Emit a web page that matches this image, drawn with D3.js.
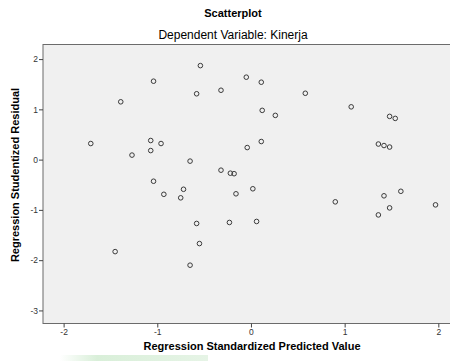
<!DOCTYPE html>
<html>
<head>
<meta charset="utf-8">
<script src="https://cdn.jsdelivr.net/npm/d3@7"></script>
<style>
  body { margin: 0; background: #fff; }
  svg { display: block; font-family: "Liberation Sans", Arial, sans-serif; }
</style>
</head>
<body>
<div id="container"></div>
<script>
/* CONSTANTS AND GLOBALS */
const width = 450,
  height = 361,
  margin = { top: 44.5, bottom: 37.5, left: 43, right: -8 };

/* DATA */
const predicted = [
  -1.04, -1.39, -1.71, -1.07, -0.96, -1.27, -1.07, -1.04, -0.54, -0.05,
  0.11, -0.58, -0.32, 0.58, 0.12, 0.26, -0.04, 0.11, -0.65, -0.32,
  -0.22, -0.18, -0.93, -0.72, -0.75, -0.16, 0.02, 1.07, 1.48, 1.54,
  1.36, 1.42, 1.48, 1.60, 1.42, 0.90, -1.45, -0.58, -0.23, 0.06,
  -0.55, -0.65, 1.97, 1.48, 1.36
];
const residual = [
  1.56, 1.15, 0.32, 0.38, 0.32, 0.09, 0.18, -0.43, 1.87, 1.64,
  1.54, 1.31, 1.38, 1.32, 0.98, 0.88, 0.24, 0.36, -0.03, -0.21,
  -0.27, -0.28, -0.69, -0.59, -0.76, -0.68, -0.58, 1.05, 0.86, 0.82,
  0.31, 0.28, 0.25, -0.63, -0.72, -0.84, -1.83, -1.27, -1.25, -1.23,
  -1.67, -2.10, -0.90, -0.96, -1.10
];
const xTicks = [-2, -1, 0, 1, 2];
const yTicks = [-3, -2, -1, 0, 1, 2];

const data = predicted.map((p, i) => ({ x: p, y: residual[i] }));

/* SCALES */
const xScale = d3.scaleLinear()
  .domain([-2.22, 2.21])
  .range([margin.left, width - margin.right]);

const yScale = d3.scaleLinear()
  .domain([-3.26, 2.29])
  .range([height - margin.bottom, margin.top]);

/* HTML ELEMENTS */
const svg = d3.select("#container")
  .append("svg")
  .attr("width", width)
  .attr("height", height);

// faint green smear at the bottom of the screenshot
const grad = svg.append("defs").append("linearGradient").attr("id", "smear");
grad.append("stop").attr("offset", "0%").attr("stop-color", "#ffffff");
grad.append("stop").attr("offset", "25%").attr("stop-color", "#d9efd9");
grad.append("stop").attr("offset", "100%").attr("stop-color", "#e6f4e6");
svg.append("rect")
  .attr("x", 60).attr("y", 355).attr("width", 148).attr("height", 6)
  .attr("fill", "url(#smear)");

// plot background
svg.append("rect")
  .attr("x", margin.left)
  .attr("y", margin.top)
  .attr("width", width - margin.right - margin.left)
  .attr("height", height - margin.bottom - margin.top)
  .attr("fill", "#f0f0f0")
  .attr("stroke", "#6b6b6b")
  .attr("stroke-width", 1);

const fmt = d => String(d);
const xAxis = d3.axisBottom(xScale).tickValues(xTicks).tickFormat(fmt).tickSize(4).tickSizeOuter(0);
const yAxis = d3.axisLeft(yScale).tickValues(yTicks).tickFormat(fmt).tickSize(4).tickSizeOuter(0);

const gx = svg.append("g")
  .attr("transform", `translate(0, ${height - margin.bottom})`)
  .call(xAxis);
const gy = svg.append("g")
  .attr("transform", `translate(${margin.left}, 0)`)
  .call(yAxis);

[gx, gy].forEach(g => {
  g.select(".domain").remove();
  g.selectAll(".tick line").attr("stroke", "#444");
  g.selectAll(".tick text")
    .attr("fill", "#333")
    .style("font-size", "8.5px")
    .style("font-family", "Liberation Sans, Arial, sans-serif");
});
gx.selectAll(".tick text").attr("dy", "0.9em").attr("y", 4);
gy.selectAll(".tick text").attr("x", -5);

// points
svg.append("g")
  .selectAll("circle")
  .data(data)
  .join("circle")
  .attr("cx", d => xScale(d.x))
  .attr("cy", d => yScale(d.y))
  .attr("r", 2.3)
  .attr("fill", "none")
  .attr("stroke", "#3a3a3a")
  .attr("stroke-width", 1);

// titles
svg.append("text")
  .attr("x", 233).attr("y", 17)
  .attr("text-anchor", "middle")
  .style("font-size", "11px").style("font-weight", "bold")
  .text("Scatterplot");

svg.append("text")
  .attr("x", 233).attr("y", 39)
  .attr("text-anchor", "middle")
  .style("font-size", "12px")
  .text("Dependent Variable: Kinerja");

svg.append("text")
  .attr("x", 252).attr("y", 350)
  .attr("text-anchor", "middle")
  .style("font-size", "11px").style("font-weight", "bold")
  .text("Regression Standardized Predicted Value");

svg.append("text")
  .attr("transform", "translate(19, 175) rotate(-90)")
  .attr("text-anchor", "middle")
  .style("font-size", "11px").style("font-weight", "bold")
  .text("Regression Studentized Residual");
</script>
</body>
</html>
